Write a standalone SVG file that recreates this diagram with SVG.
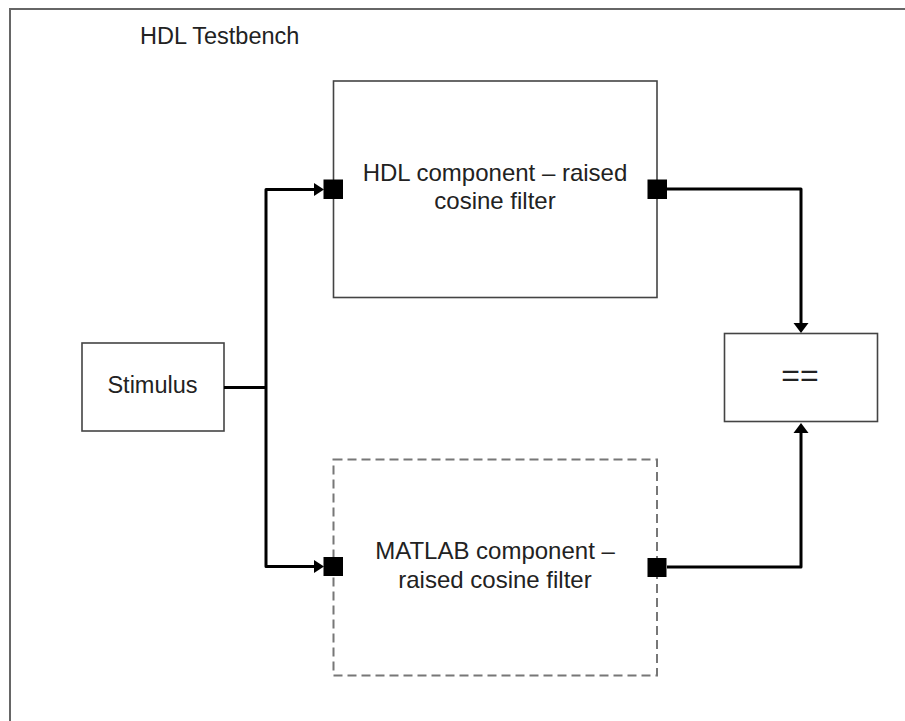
<svg xmlns="http://www.w3.org/2000/svg" width="905" height="721" viewBox="0 0 905 721">
<style>
.frame{fill:none;stroke:#666;stroke-width:2}
.box{fill:#fff;stroke:#444;stroke-width:1.6}
.dbox{fill:#fff;stroke:#777;stroke-width:2;stroke-dasharray:9 5}
.lbl{font-family:"Liberation Sans",Arial,sans-serif;font-size:24px;fill:#222;text-anchor:middle}
.eq{font-size:32px}
.wire{fill:none;stroke:#000;stroke-width:3;stroke-linejoin:round}
.port{fill:#000}
.head{fill:#000}
</style>
<rect class="frame" x="10" y="9" width="910" height="730"/>
<text x="140" y="44" font-family="'Liberation Sans',Arial,sans-serif" font-size="23.5" fill="#222">HDL Testbench</text>
<g id="stimulus">
<rect class="box" x="82" y="343" width="142" height="88"/>
<text class="lbl" x="152.5" y="393" style="font-size:23.5px">Stimulus</text>
</g>
<g id="hdl">
<rect class="box" x="333.5" y="81" width="323.5" height="216.5"/>
<text class="lbl" x="495" y="181">HDL component – raised</text>
<text class="lbl" x="495" y="209">cosine filter</text>
</g>
<g id="matlab">
<rect class="dbox" x="333.5" y="459.5" width="323.5" height="216"/>
<text class="lbl" x="495" y="559">MATLAB component –</text>
<text class="lbl" x="495" y="587.5">raised cosine filter</text>
</g>
<g id="compare">
<rect class="box" x="724.5" y="333.5" width="153" height="88"/>
<text class="lbl eq" x="800" y="386">==</text>
</g>
<g id="connectors">
<path class="wire" d="M224 387.5 H266"/>
<path class="wire" d="M316 189.5 H266 V566.5 H316"/>
<path class="head" d="M324 189.5 L314 183 L314 196 Z"/>
<path class="head" d="M324 566.5 L314 560 L314 573 Z"/>
<path class="wire" d="M667 189 H801 V324"/>
<path class="head" d="M801 333 L793.5 323 L808.5 323 Z"/>
<path class="wire" d="M667 567 H801 V432"/>
<path class="head" d="M801 423 L793.5 433 L808.5 433 Z"/>
<rect class="port" x="323.5" y="179.5" width="19.5" height="19.5"/>
<rect class="port" x="323.5" y="557" width="19.5" height="19"/>
<rect class="port" x="647.5" y="179.5" width="19.5" height="19.5"/>
<rect class="port" x="647.5" y="558" width="19" height="19"/>
</g>
</svg>
